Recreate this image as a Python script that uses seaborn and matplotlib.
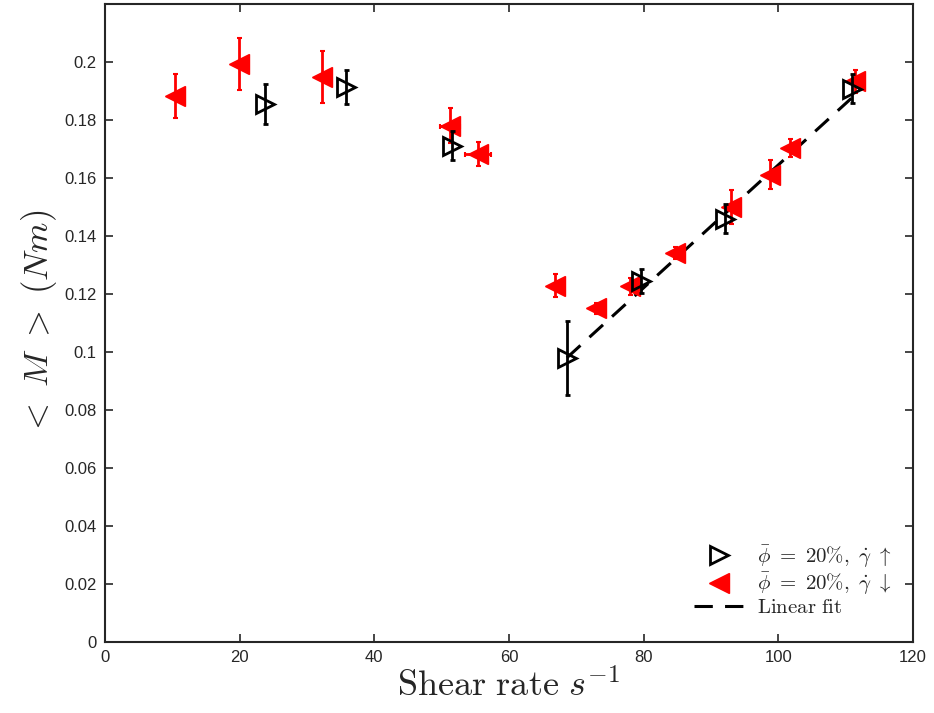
import numpy as np
import pandas as pd
import matplotlib
matplotlib.use("Agg")
import matplotlib.pyplot as plt
import seaborn as sns
from matplotlib.lines import Line2D

# ---- data ----
up_x = [23.8, 35.8, 51.5, 68.6, 79.6, 92.1, 111.0]
up_y = [0.1855, 0.1914, 0.1712, 0.0980, 0.1245, 0.1460, 0.1908]
up_yerr = [0.007, 0.006, 0.005, 0.0128, 0.004, 0.005, 0.005]

down_x = [10.4, 19.9, 32.2, 51.2, 55.4, 66.8, 72.9, 78.0, 84.7, 93.0, 98.8, 101.7, 111.4]
down_y = [0.1883, 0.1993, 0.1948, 0.1780, 0.1683, 0.1228, 0.1150, 0.1226, 0.1342, 0.1500, 0.1612, 0.1703, 0.1934]
down_yerr = [0.0075, 0.009, 0.009, 0.006, 0.004, 0.004, 0.002, 0.003, 0.002, 0.006, 0.005, 0.003, 0.004]
down_xerr = [0, 0, 0, 1.5, 2.0, 0, 0, 0, 0, 0, 0, 0, 0]

fit_x = [68.6, 112.6]
fit_y = [0.0980, 0.1912]

x_ticks = [0, 20, 40, 60, 80, 100, 120]
y_ticks = [0, 0.02, 0.04, 0.06, 0.08, 0.1, 0.12, 0.14, 0.16, 0.18, 0.2]
y_ticklabels = ["0", "0.02", "0.04", "0.06", "0.08", "0.1", "0.12", "0.14", "0.16", "0.18", "0.2"]

label_up = r"$\bar{\phi}\ =\ 20\%,\ \dot{\gamma}\ \uparrow$"
label_down = r"$\bar{\phi}\ =\ 20\%,\ \dot{\gamma}\ \downarrow$"
label_fit = r"$\mathrm{Linear\ fit}$"

# ---- style ----
sns.set_style("ticks")
plt.rcParams["font.family"] = ["Liberation Sans", "DejaVu Sans"]
plt.rcParams["mathtext.fontset"] = "cm"

fig = plt.figure(figsize=(9.34, 7.13), dpi=100)
ax = fig.add_axes([0.1124, 0.0996, 0.8651, 0.8948])

dash = (0, (6, 4))
fit_df = pd.DataFrame({"x": fit_x, "y": fit_y})
sns.lineplot(data=fit_df, x="x", y="y", ax=ax, color="black", lw=2.2,
             linestyle=dash, zorder=2)

ax.errorbar(down_x, down_y, yerr=down_yerr, xerr=down_xerr, fmt="<", color="red",
            ms=14, mec="red", mfc="red", elinewidth=2.0, capsize=1.8, capthick=1.5,
            zorder=3)
ax.errorbar(up_x, up_y, yerr=up_yerr, fmt=">", color="black", ms=13, mec="black",
            mfc="none", mew=2.0, elinewidth=2.0, capsize=1.8, capthick=1.5, zorder=4)

ax.set_xlim(0, 120)
ax.set_ylim(0, 0.22)
ax.set_xticks(x_ticks)
ax.set_yticks(y_ticks)
ax.set_yticklabels(y_ticklabels)
ax.tick_params(direction="in", length=6, width=1.2, top=True, right=True,
               labelsize=12, colors="#262626", pad=6)
for s in ax.spines.values():
    s.set_visible(True)
    s.set_linewidth(1.5)
    s.set_color("#262626")

ax.set_xlabel(r"$\mathrm{Shear\ rate}\ s^{-1}$", fontsize=26, labelpad=3)
ax.set_ylabel(r"$<\ M\ >\ (Nm)$", fontsize=25, labelpad=4)

handles = [
    Line2D([], [], marker=">", ls="none", color="black", mfc="none", mew=2.0, ms=13),
    Line2D([], [], marker="<", ls="none", color="red", mfc="red", ms=14),
    Line2D([], [], color="black", lw=2.2, linestyle=dash),
]
ax.legend(handles, [label_up, label_down, label_fit], loc="lower right",
          frameon=False, fontsize=15, handlelength=2.4, handletextpad=0.6,
          labelspacing=0.05, borderaxespad=0.8, bbox_to_anchor=(1.004, 0.0))

fig.savefig("out.png", dpi=100)
